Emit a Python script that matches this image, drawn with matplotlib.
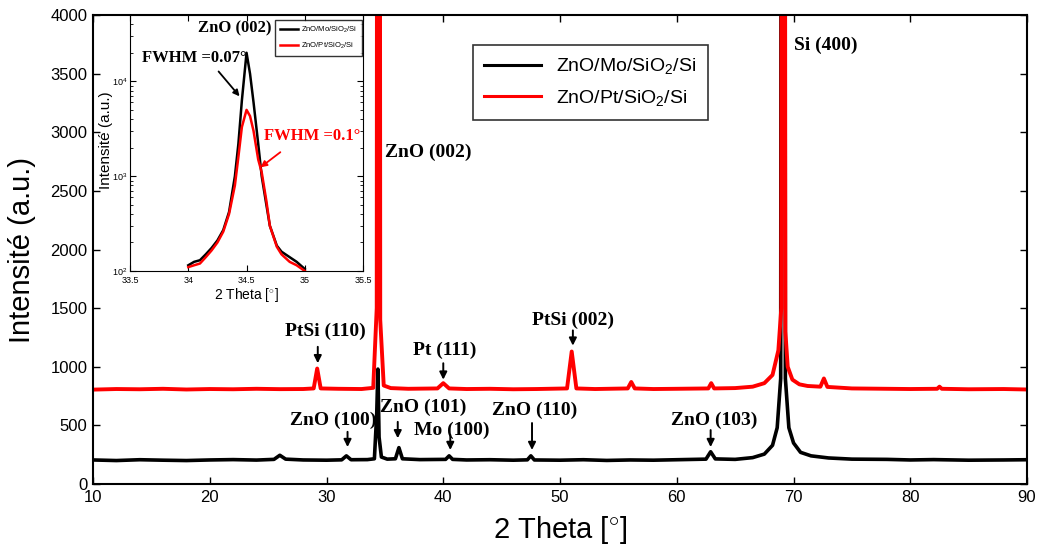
import matplotlib
matplotlib.use('Agg')
import matplotlib.pyplot as plt
import numpy as np

plt.rcParams['font.family'] = ['Liberation Sans', 'DejaVu Sans']
plt.rcParams['mathtext.fontset'] = 'custom'
plt.rcParams['mathtext.rm'] = 'Liberation Sans'
plt.rcParams['mathtext.it'] = 'Liberation Sans:italic'

# --- main pattern: ZnO/Mo/SiO2/Si (black) ---
mo_x = [10, 12, 14, 16, 18, 20, 22, 24, 25.5, 26.0, 26.5, 28, 30, 31.3, 31.7, 32.1,
        33.5, 34.1, 34.3, 34.4, 34.5, 34.7, 35.2, 35.9, 36.2, 36.5, 38, 40.2, 40.5, 40.8,
        42, 44, 46, 47.2, 47.5, 47.8, 50, 52, 54, 56, 58, 60, 62.5, 62.9, 63.3, 65,
        66.5, 67.5, 68.2, 68.6, 68.9, 69.1, 69.3, 69.6, 70.0, 70.6, 71.5, 73, 75, 78,
        80, 82, 85, 88, 90]
mo_y = [205, 200, 207, 203, 200, 205, 208, 204, 210, 245, 212, 205, 203, 206, 240, 207,
        208, 215, 600, 980, 400, 230, 212, 215, 310, 215, 208, 210, 240, 210,
        205, 207, 203, 206, 240, 205, 203, 207, 201, 205, 203, 207, 212, 275, 214, 210,
        225, 255, 330, 480, 900, 30000, 900, 480, 350, 270, 240, 222, 212, 210,
        205, 208, 203, 205, 207]

# --- main pattern: ZnO/Pt/SiO2/Si (red) ---
pt_x = [10, 12, 14, 16, 18, 20, 22, 24, 26, 28, 28.9, 29.2, 29.5, 31, 33, 34.0, 34.3,
        34.45, 34.6, 34.9, 35.5, 37, 39.5, 40.0, 40.5, 42, 44, 46, 48, 50.6, 51.0, 51.4,
        53, 55.8, 56.1, 56.4, 58, 60, 62.7, 62.95, 63.2, 65, 66.5, 67.5, 68.2, 68.7,
        68.95, 69.1, 69.3, 69.5, 69.9, 70.5, 71.2, 72.3, 72.6, 72.9, 75, 78, 80, 82.3,
        82.5, 82.7, 85, 88, 90]
pt_y = [805, 810, 808, 812, 806, 810, 808, 812, 809, 810, 815, 985, 815, 812, 810, 820, 1500,
        25000, 1400, 840, 818, 812, 815, 860, 815, 810, 812, 808, 810, 815, 1130, 815,
        810, 815, 870, 815, 810, 812, 815, 860, 815, 818, 830, 860, 930, 1140,
        1500, 30000, 1300, 1000, 890, 850, 836, 830, 900, 828, 815, 812, 810, 812,
        830, 812, 808, 810, 806]

# --- inset: ZnO (002) peak, log scale ---
ins_x = [34.0, 34.05, 34.1, 34.15, 34.2, 34.25, 34.3, 34.35, 34.4, 34.43, 34.46, 34.5,
         34.53, 34.56, 34.6, 34.63, 34.67, 34.7, 34.76, 34.8, 34.87, 34.93, 35.0]
ins_mo = [115, 125, 130, 150, 175, 210, 270, 420, 1000, 2200, 6300, 20000,
          12000, 6000, 2200, 1000, 500, 300, 185, 160, 140, 125, 105]
ins_pt = [110, 115, 120, 140, 165, 200, 260, 400, 800, 1600, 3300, 5000,
          4300, 3000, 1500, 1100, 550, 300, 180, 150, 125, 115, 100]

labels = ['ZnO/Mo/SiO$_2$/Si', 'ZnO/Pt/SiO$_2$/Si']

# peak labels: text, text x, text y, arrow x, arrow tail y, arrow tip y
peaks = [
    ('PtSi (110)', 29.9, 1305, 29.25, 1170, 1030),
    ('Pt (111)', 40.15, 1140, 40.0, 1030, 890),
    ('PtSi (002)', 51.1, 1400, 51.1, 1310, 1180),
    ('ZnO (100)', 30.55, 545, 31.8, 445, 315),
    ('ZnO (101)', 38.3, 650, 36.1, 530, 390),
    ('Mo (100)', 40.7, 460, 40.6, 420, 290),
    ('ZnO (110)', 47.85, 630, 47.6, 520, 290),
    ('ZnO (103)', 63.2, 545, 62.9, 460, 315),
]

serif = dict(family=['Liberation Serif', 'DejaVu Serif'], fontweight='bold')

fig = plt.figure(figsize=(10.37, 5.52), dpi=100)
ax = fig.add_axes([0.0897, 0.1232, 0.9007, 0.8496])

ax.plot(mo_x, mo_y, color='black', lw=2.6, label=labels[0])
ax.plot(pt_x, pt_y, color='#ff0000', lw=2.8, label=labels[1])

ax.set_xlim(10, 90)
ax.set_ylim(0, 4000)
ax.set_xticks(np.arange(10, 91, 10))
ax.set_yticks(np.arange(0, 4001, 500))
ax.tick_params(direction='in', top=True, right=True, length=5, width=1,
               labelsize=12, pad=4)
for s in ax.spines.values():
    s.set_linewidth(1.5)

ax.set_xlabel('2 Theta [$^{\\circ}$]', fontsize=21)
ax.set_ylabel('Intensité (a.u.)', fontsize=21)
ax.xaxis.set_label_coords(0.5, -0.064)
ax.yaxis.set_label_coords(-0.061, 0.5)

for txt, tx, ty, axx, y0, y1 in peaks:
    ax.text(tx, ty, txt, fontsize=14, ha='center', va='center', **serif)
    ax.annotate('', xy=(axx, y1), xytext=(axx, y0),
                arrowprops=dict(arrowstyle='-|>', color='black', lw=1.4,
                                mutation_scale=11, shrinkA=0, shrinkB=0))

ax.text(35.05, 2825, 'ZnO (002)', fontsize=14, ha='left', va='center', **serif)
ax.text(70.0, 3745, 'Si (400)', fontsize=14, ha='left', va='center', **serif)

leg = ax.legend(loc='upper left', bbox_to_anchor=(0.4465, 0.9366),
                bbox_transform=fig.transFigure, fontsize=14, frameon=True,
                fancybox=False, edgecolor='black', handlelength=2.9,
                borderpad=0.6, labelspacing=0.6)
leg.get_frame().set_linewidth(1.2)
for ln in leg.get_lines():
    ln.set_linewidth(2.2)

# inset
axi = fig.add_axes([0.1254, 0.509, 0.2247, 0.4638])
axi.plot(ins_x, ins_mo, color='black', lw=1.8, label=labels[0])
axi.plot(ins_x, ins_pt, color='#ff0000', lw=1.8, label=labels[1])
axi.set_yscale('log')
axi.set_xlim(33.5, 35.5)
axi.set_ylim(100, 50000)
axi.set_xticks([33.5, 34, 34.5, 35, 35.5])
axi.set_xticklabels(['33.5', '34', '34.5', '35', '35.5'])
axi.set_yticks([100, 1000, 10000])
axi.tick_params(which='both', direction='in', top=True, right=True,
                labelsize=6.5, pad=2)
axi.tick_params(axis='x', pad=3.5)
axi.tick_params(which='major', length=4)
axi.tick_params(which='minor', length=2)
axi.set_xlabel('2 Theta [$^{\\circ}$]', fontsize=10)
axi.set_ylabel('Intensité (a.u.)', fontsize=11)
axi.xaxis.set_label_coords(0.5, -0.06)
axi.yaxis.set_label_coords(-0.075, 0.51)

axi.text(34.4, 36000, 'ZnO (002)', fontsize=12, ha='center', va='center', **serif)
axi.text(34.05, 17800, 'FWHM =0.07°', fontsize=12, ha='center', va='center', **serif)
axi.annotate('', xy=(34.44, 6950), xytext=(34.26, 12700),
             arrowprops=dict(arrowstyle='-|>', color='black', lw=1.3,
                             mutation_scale=9, shrinkA=0, shrinkB=0))
axi.text(35.06, 2640, 'FWHM =0.1°', fontsize=12, ha='center', va='center',
         color='#ff0000', **serif)
axi.annotate('', xy=(34.62, 1240), xytext=(34.79, 1790),
             arrowprops=dict(arrowstyle='-|>', color='#ff0000', lw=1.3,
                             mutation_scale=9, shrinkA=0, shrinkB=0))

li = axi.legend(loc='upper right', bbox_to_anchor=(0.995, 0.98), fontsize=5.5,
                frameon=True, fancybox=False, edgecolor='black',
                handlelength=2.4, handletextpad=0.4, borderpad=0.6,
                labelspacing=0.8, borderaxespad=0.0)
li.get_frame().set_linewidth(1.0)

fig.savefig('out.png', dpi=100)
